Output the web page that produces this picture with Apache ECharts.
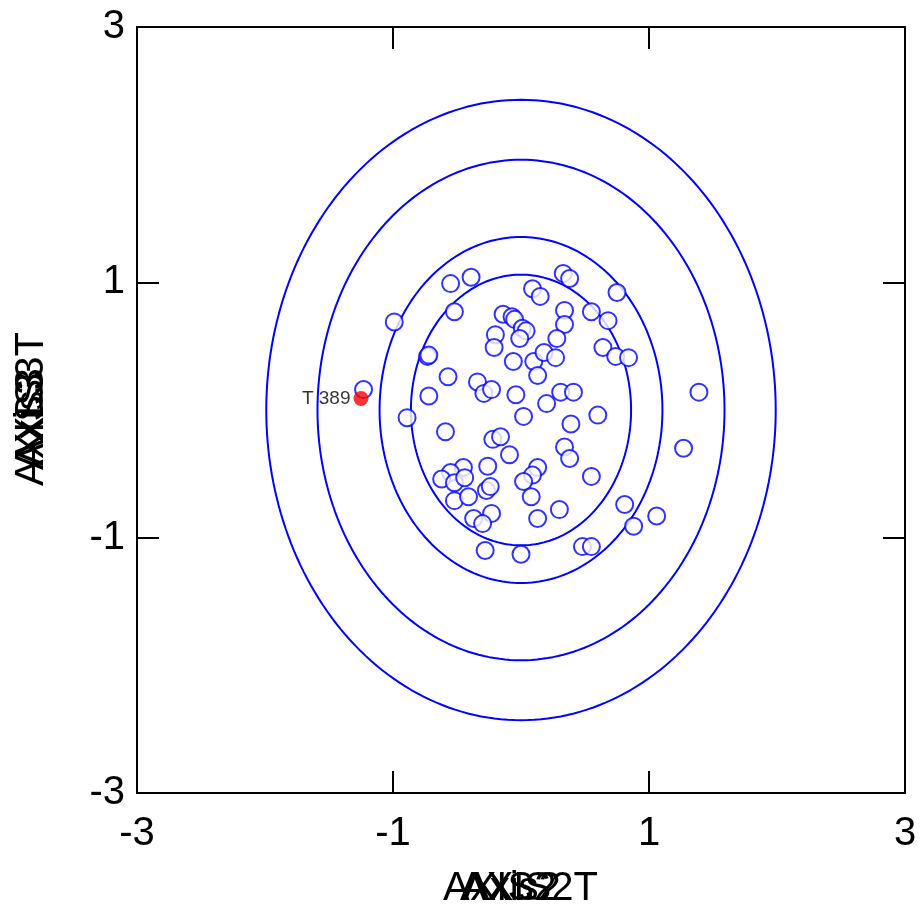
<!DOCTYPE html>
<html>
<head>
<meta charset="utf-8">
<script src="https://cdn.jsdelivr.net/npm/echarts@6/dist/echarts.min.js"></script>
<style>
html, body { margin: 0; padding: 0; background: #ffffff; }
#chart { width: 924px; height: 911px; }
</style>
</head>
<body>
<div id="chart"></div>
<script>
// Observation scores on the two axes
const scoreX = [
  -1.23, -0.99, -0.89, -0.73, -0.72, -0.72, -0.57, -0.59, -0.55, -0.52,
  -0.39, -0.34, -0.29, -0.23, -0.20, -0.21, -0.14, -0.07, -0.05, 0.01,
  0.04, -0.01, -0.06, 0.10, 0.18, 0.13, -0.04, 0.02, 0.20, 0.09,
  0.15, 0.33, 0.38, 0.75, 0.34, 0.55, 0.68, 0.34, 0.28, 0.27,
  0.64, 0.74, 0.84, 0.31, 0.41, 1.39, 0.60, 0.39, -0.22, -0.16,
  -0.09, 0.34, 0.38, 1.27, -0.26, -0.45, -0.55, -0.62, -0.52, -0.44,
  0.13, 0.09, 0.02, -0.27, -0.24, -0.52, -0.41, 0.08, 0.55, -0.23,
  -0.37, -0.30, 0.30, 0.13, 0.81, 0.88, 1.06, -0.28, 0.00, 0.48,
  0.55
];
const scoreY = [
  0.16, 0.69, -0.06, 0.42, 0.43, 0.11, 0.26, -0.17, 0.99, 0.77,
  1.04, 0.22, 0.13, 0.16, 0.59, 0.49, 0.75, 0.73, 0.71, 0.64,
  0.62, 0.56, 0.38, 0.38, 0.45, 0.27, 0.12, -0.05, 0.05, 0.95,
  0.89, 1.07, 1.03, 0.92, 0.78, 0.77, 0.70, 0.67, 0.56, 0.41,
  0.49, 0.42, 0.41, 0.14, 0.14, 0.14, -0.04, -0.11, -0.23, -0.21,
  -0.35, -0.29, -0.38, -0.30, -0.44, -0.45, -0.49, -0.54, -0.57, -0.53,
  -0.45, -0.51, -0.56, -0.63, -0.60, -0.71, -0.68, -0.68, -0.52, -0.81,
  -0.85, -0.89, -0.78, -0.85, -0.74, -0.91, -0.83, -1.10, -1.13, -1.07,
  -1.07
];

// Flagged observation
const flaggedName = 'T 389';
const flaggedX = -1.25;
const flaggedY = 0.09;

// Confidence contours: centre and semi-axes, outermost first
const ellipseCenter = [0, 0];
const ellipseRx = [1.99, 1.59, 1.105, 0.86];
const ellipseRy = [2.43, 1.96, 1.355, 1.06];

// Axis range and labelled ticks
const axisMin = -3;
const axisMax = 3;
const tickValues = [-3, -1, 1, 3];

const FONT = '"Liberation Sans", Arial, sans-serif';
const BLUE = '#0000ff';

function ellipsePath(rx, ry) {
  const pts = [];
  const n = 240;
  for (let i = 0; i <= n; i++) {
    const t = (i / n) * Math.PI * 2;
    pts.push([ellipseCenter[0] + rx * Math.cos(t), ellipseCenter[1] + ry * Math.sin(t)]);
  }
  return pts;
}

const contourSeries = ellipseRx.map((rx, i) => ({
  type: 'line',
  data: ellipsePath(rx, ellipseRy[i]),
  showSymbol: false,
  symbol: 'none',
  smooth: false,
  lineStyle: { color: BLUE, width: 2 },
  silent: true,
  z: 2
}));

const scatterData = scoreX.map((x, i) => [x, scoreY[i]]);

function valueAxis(position, withLabels) {
  const isY = position === 'left' || position === 'right';
  return {
    type: 'value',
    position: position,
    min: axisMin,
    max: axisMax,
    axisLine: { show: true, onZero: false, lineStyle: { color: '#000', width: 2 } },
    axisTick: {
      show: true, inside: true, length: 22,
      customValues: tickValues,
      lineStyle: { color: '#000', width: 2 }
    },
    axisLabel: {
      show: withLabels,
      customValues: tickValues,
      color: '#000',
      fontFamily: FONT,
      fontSize: 40,
      margin: isY ? 12 : 21,
      padding: isY ? [8, 0, 0, 0] : 0
    },
    splitLine: { show: false }
  };
}

const titleStyle = { fill: '#000', font: '40px ' + FONT };

const chart = echarts.init(document.getElementById('chart'), null, { renderer: 'canvas' });
chart.setOption({
  animation: false,
  backgroundColor: '#ffffff',
  grid: { left: 137, right: 19, top: 27, bottom: 118, containLabel: false },
  xAxis: [valueAxis('bottom', true), valueAxis('top', false)],
  yAxis: [valueAxis('left', true), valueAxis('right', false)],
  series: [
    ...contourSeries,
    {
      type: 'scatter',
      data: scatterData,
      symbol: 'emptyCircle',
      symbolSize: 17,
      itemStyle: { color: BLUE, borderColor: BLUE, borderWidth: 1.5 },
      z: 3
    },
    {
      type: 'scatter',
      data: [[flaggedX, flaggedY]],
      symbol: 'circle',
      symbolSize: 15,
      itemStyle: { color: '#ff0000' },
      label: {
        show: true,
        position: 'left',
        distance: 3,
        formatter: flaggedName,
        color: '#000',
        fontFamily: FONT,
        fontSize: 19
      },
      z: 4
    }
  ],
  graphic: [
    { type: 'text', left: 443, top: 869, style: { text: 'AXIS2', ...titleStyle } },
    { type: 'text', left: 463, top: 869, style: { text: 'Axis2', ...titleStyle } },
    { type: 'text', left: 460, top: 869, style: { text: 'AXIS2T', ...titleStyle } },
    { type: 'text', x: 32, y: 486, rotation: Math.PI / 2,
      style: { text: 'AXIS3', textAlign: 'left', textVerticalAlign: 'middle', ...titleStyle } },
    { type: 'text', x: 32, y: 466, rotation: Math.PI / 2,
      style: { text: 'Axis3', textAlign: 'left', textVerticalAlign: 'middle', ...titleStyle } },
    { type: 'text', x: 32, y: 470, rotation: Math.PI / 2,
      style: { text: 'AXIS3T', textAlign: 'left', textVerticalAlign: 'middle', ...titleStyle } }
  ]
});
</script>
</body>
</html>
